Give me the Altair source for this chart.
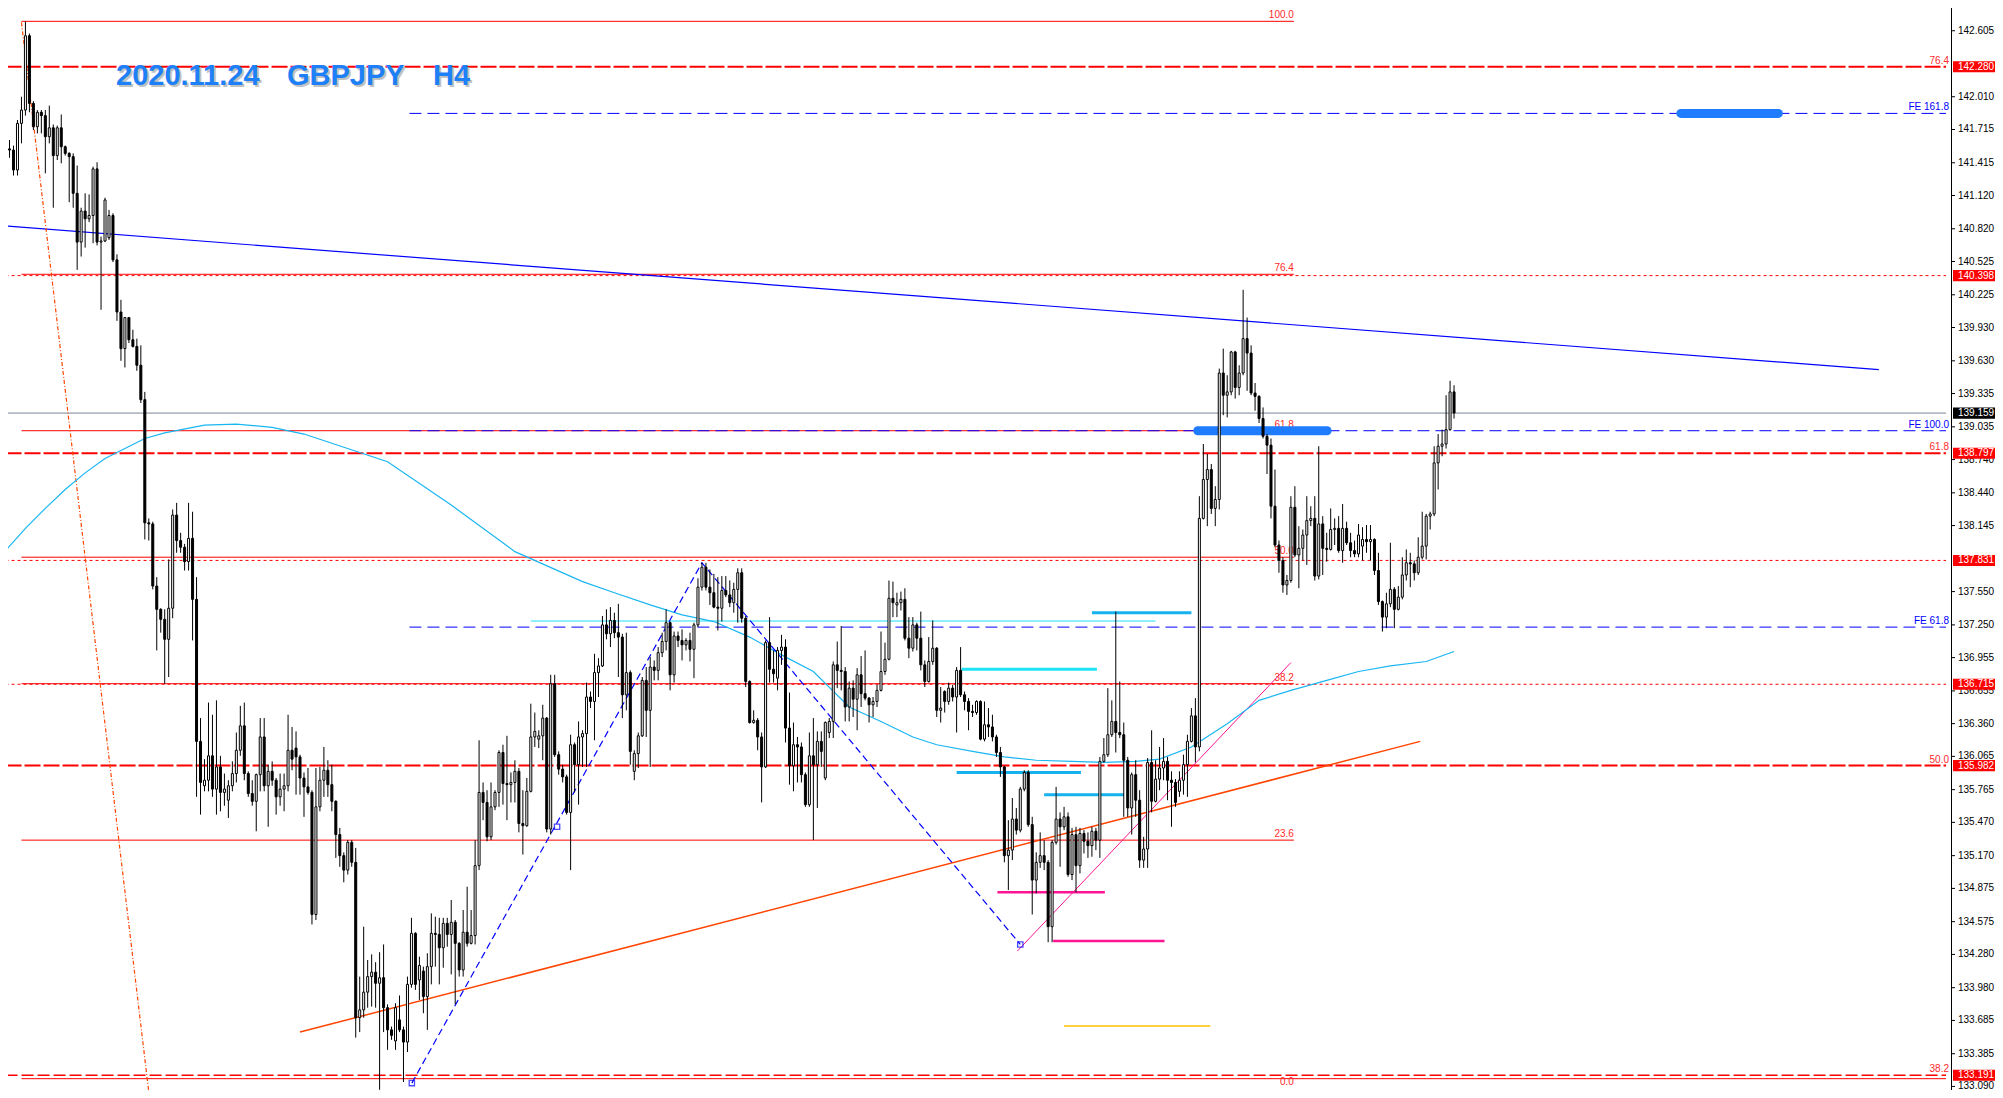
import altair as alt
import pandas as pd

# ---------------- candle data (GBPJPY H4), index 0..364 ----------------
OPEN = [
141.19,141.54,141.53,141.35,141.77,141.89,142.56,141.95,141.74,141.87,
141.84,141.65,141.73,141.48,141.73,141.56,141.50,141.47,141.14,140.70,
140.98,140.91,140.94,141.36,140.70,140.71,140.74,140.94,140.54,140.07,
139.74,140.02,139.82,139.76,139.59,139.28,138.17,138.16,137.60,137.39,
137.30,137.12,137.40,138.24,138.01,137.95,137.82,138.03,137.48,136.20,
135.80,135.85,136.07,135.77,135.97,135.74,135.67,135.80,135.91,136.12,
136.34,135.91,135.73,135.66,135.90,136.24,135.80,135.93,135.85,135.70,
135.77,135.80,136.12,136.14,136.06,135.87,135.79,135.74,134.64,135.61,
135.85,135.94,135.81,135.66,135.36,135.17,135.04,135.29,135.11,133.71,
133.78,133.94,134.08,134.12,134.02,134.07,133.80,133.60,133.50,133.69,
133.60,133.49,134.01,134.47,134.05,134.13,133.90,134.17,134.47,134.46,
134.34,134.56,134.46,134.57,134.38,134.14,134.48,134.38,134.45,135.08,
135.74,135.65,135.34,135.61,135.74,136.10,135.82,135.81,135.83,135.93,
135.46,135.44,135.75,136.24,136.22,136.25,136.41,135.41,136.72,136.08,
135.95,135.88,135.56,136.17,135.99,136.24,136.27,136.60,136.56,136.82,
136.88,137.25,137.17,137.29,137.18,137.14,136.62,136.82,135.93,136.09,
136.25,136.75,136.48,136.87,136.84,137.00,137.10,137.27,136.80,137.15,
137.11,137.07,137.11,137.03,137.25,137.59,137.77,137.59,137.54,137.41,
137.40,137.56,137.52,137.45,137.57,137.72,137.31,136.74,136.37,136.39,
136.24,135.97,137.09,136.85,136.77,137.02,137.05,136.32,135.98,136.17,
136.15,135.90,135.63,136.07,135.99,136.20,135.87,136.28,136.38,136.89,
136.84,136.83,136.51,136.68,136.58,136.80,136.63,136.59,136.53,136.56,
136.66,136.83,136.94,137.49,137.43,137.45,137.48,137.13,137.04,137.25,
137.13,136.89,136.74,136.92,137.04,136.48,136.65,136.56,136.68,136.60,
136.84,136.62,136.56,136.47,136.46,136.56,136.22,136.35,136.33,136.24,
136.10,135.97,135.17,135.22,135.50,135.40,135.77,135.92,135.45,134.95,
135.11,135.17,135.11,134.53,135.29,135.50,135.43,135.52,135.00,135.36,
135.08,135.37,135.30,135.26,135.39,135.31,136.02,136.08,136.26,136.38,
136.28,136.26,136.03,135.60,135.90,135.67,135.13,135.23,136.01,135.66,
135.86,135.96,136.02,135.85,135.83,135.75,135.85,135.99,136.20,136.43,
136.15,138.21,138.56,138.65,138.30,138.38,139.52,139.32,139.35,139.71,
139.39,139.52,139.83,139.70,139.34,139.31,139.11,138.95,138.87,138.32,
137.97,137.83,137.61,137.65,138.31,137.88,137.94,138.06,138.19,138.21,
137.69,138.16,137.94,137.93,138.11,138.12,137.92,138.12,137.99,137.92,
137.89,137.96,138.02,138.00,138.02,137.74,137.46,137.32,137.44,137.57,
137.39,137.50,137.70,137.81,137.80,137.72,137.86,137.96,138.23,138.25,
138.71,138.86,138.88,139.01,139.35]

HIGH = [
141.98,141.62,141.57,141.80,142.01,142.69,142.58,141.97,141.89,141.89,
141.89,141.93,141.76,141.75,141.85,141.57,141.51,141.50,141.39,141.01,
141.14,141.13,141.38,141.42,140.75,141.10,140.99,140.96,140.59,140.18,
140.02,140.02,139.91,139.83,139.77,139.35,138.21,138.18,137.68,137.40,
137.39,137.84,138.29,138.35,138.08,137.98,138.35,138.27,137.68,136.41,
136.04,136.55,136.44,136.57,136.07,135.91,135.85,136.02,136.28,136.52,
136.55,135.93,135.85,135.91,136.41,136.41,135.99,136.02,135.87,135.91,
135.91,136.44,136.33,136.29,136.08,135.92,135.96,135.76,135.96,135.97,
136.15,136.03,135.99,135.67,135.42,135.20,135.31,135.31,135.24,134.08,
134.53,134.23,134.28,134.21,134.30,134.37,133.83,133.63,133.84,133.91,
133.63,134.08,134.61,134.48,134.26,134.17,134.29,134.65,134.62,134.61,
134.61,134.61,134.77,134.59,134.39,134.68,134.89,134.68,135.31,136.21,
135.83,135.76,135.83,135.76,136.12,136.17,136.25,135.92,136.03,135.96,
135.76,135.87,136.54,136.46,136.30,136.53,136.42,136.80,136.80,136.11,
135.99,135.90,136.26,136.19,136.38,136.30,136.73,136.65,136.99,136.95,
137.33,137.39,137.41,137.36,137.44,137.17,137.18,136.84,136.12,136.28,
136.78,136.87,136.96,136.93,137.05,137.18,137.39,137.28,137.19,137.19,
137.21,137.13,137.18,137.27,137.67,137.81,137.81,137.75,137.71,137.68,
137.69,137.69,137.65,137.63,137.76,137.76,137.33,136.75,136.48,136.41,
136.28,137.11,137.32,137.02,137.05,137.16,137.12,136.64,136.37,136.24,
136.19,135.92,136.28,136.41,136.29,136.29,136.38,136.41,136.92,137.10,
137.24,136.87,136.74,136.75,136.86,136.97,137.02,136.60,136.60,136.71,
137.19,137.09,137.65,137.64,137.54,137.55,137.58,137.32,137.32,137.27,
137.37,136.93,137.14,137.29,137.05,136.69,136.66,136.73,136.71,136.87,
137.05,136.65,136.59,136.53,136.57,136.57,136.56,136.50,136.44,136.26,
136.15,135.98,135.49,135.69,135.60,135.79,135.94,135.94,135.52,135.20,
135.38,135.31,135.13,135.31,135.79,135.56,135.61,135.56,135.42,135.43,
135.42,135.40,135.38,135.43,135.42,136.06,136.23,136.68,136.57,137.37,
136.74,136.37,136.06,135.92,136.03,135.76,135.34,136.05,136.30,136.03,
136.15,136.23,136.06,135.93,135.86,135.93,136.08,136.26,136.50,136.59,
138.41,138.88,138.79,138.70,138.50,139.56,139.74,139.50,139.72,139.72,
139.59,140.27,140.02,139.77,139.43,139.32,139.21,138.97,138.93,138.65,
138.01,137.86,137.70,138.41,138.50,138.14,138.11,138.41,138.32,138.41,
138.86,138.23,138.08,138.30,138.21,138.23,138.34,138.18,138.08,138.01,
138.16,138.13,138.15,138.15,138.03,137.90,137.47,137.54,137.99,137.59,
137.60,137.86,137.93,137.90,137.83,138.04,138.27,138.25,138.27,138.86,
138.97,139.01,139.32,139.45,139.41]

LOW = [
141.11,141.46,141.30,141.30,141.59,141.84,141.87,141.71,141.68,141.68,
141.32,141.59,141.01,141.44,141.41,141.48,141.06,141.01,140.45,140.57,
140.65,140.88,140.69,140.67,140.09,140.70,140.72,140.52,139.99,139.63,
139.57,139.79,139.75,139.54,139.25,138.02,138.01,137.57,137.02,137.18,
136.72,136.78,137.31,137.90,137.90,137.74,137.74,137.11,135.70,135.54,
135.75,135.75,135.70,135.54,135.57,135.62,135.51,135.75,135.83,136.07,
135.85,135.70,135.62,135.39,135.75,135.75,135.43,135.80,135.54,135.62,
135.57,135.75,135.94,135.72,135.72,135.52,135.72,134.55,134.59,135.57,
135.70,135.70,135.57,135.15,135.07,134.93,135.00,135.07,133.53,133.58,
133.71,133.80,133.81,133.80,133.06,133.58,133.42,133.51,133.42,133.58,
133.13,133.40,133.98,133.96,133.87,133.75,133.60,134.01,134.17,134.01,
134.16,134.35,134.10,133.83,134.08,134.08,134.35,134.37,134.37,135.04,
135.49,135.30,135.31,135.58,135.61,135.63,135.49,135.65,135.65,135.38,
135.18,135.43,135.74,136.15,136.14,136.03,135.38,135.36,136.06,135.90,
135.83,135.54,135.04,135.74,135.63,135.97,135.97,136.50,136.21,136.60,
136.87,137.12,137.05,137.13,136.78,136.41,136.48,135.99,135.85,135.96,
136.24,136.24,135.97,136.75,136.75,136.96,137.02,136.66,136.73,137.05,
136.93,137.02,136.92,136.77,137.23,137.56,137.56,137.43,137.40,137.20,
137.28,137.50,137.41,137.36,137.27,137.27,136.69,136.36,136.36,136.12,
135.65,135.96,136.73,136.73,136.66,136.89,136.19,135.81,135.75,135.83,
135.83,135.61,135.61,135.31,135.60,135.97,135.85,136.23,136.23,136.68,
136.66,136.38,136.38,136.42,136.30,136.51,136.57,136.37,136.42,136.51,
136.65,136.80,136.93,137.32,137.32,137.38,137.11,136.95,137.01,137.02,
136.84,136.69,136.73,136.89,136.42,136.37,136.46,136.53,136.56,136.28,
136.60,136.48,136.30,136.42,136.44,136.21,136.20,136.24,136.20,136.06,
135.88,135.11,134.86,135.13,135.36,135.38,135.75,135.43,134.64,134.83,
135.06,135.04,134.39,134.39,135.27,135.07,135.40,134.98,134.95,134.84,
135.01,135.19,135.15,135.16,135.22,135.15,136.01,136.06,136.24,136.10,
136.23,135.52,135.52,135.36,135.52,135.06,135.06,135.06,135.56,135.65,
135.76,135.85,135.67,135.43,135.61,135.70,135.72,135.70,136.19,136.01,
136.11,138.20,138.14,138.25,138.14,138.29,139.14,139.12,139.32,139.29,
139.32,139.50,139.36,139.32,139.18,139.07,138.93,138.61,138.21,137.95,
137.72,137.54,137.52,137.63,137.86,137.58,137.83,137.79,138.14,137.65,
137.66,137.70,137.82,137.92,137.97,137.90,137.81,137.97,137.86,137.86,
137.86,137.83,137.90,137.83,137.70,137.43,137.19,137.22,137.41,137.22,
137.38,137.48,137.65,137.59,137.65,137.70,137.84,137.84,138.11,138.23,
138.47,138.77,138.84,139.00,139.11]

CLOSE = [
141.54,141.53,141.35,141.77,141.89,142.56,141.95,141.74,141.87,141.84,
141.65,141.73,141.48,141.73,141.56,141.50,141.47,141.14,140.70,140.98,
140.91,140.94,141.36,140.70,140.71,141.08,140.94,140.54,140.07,139.74,
140.02,139.82,139.76,139.59,139.28,138.17,138.16,137.60,137.39,137.30,
137.12,137.40,138.24,138.01,137.95,137.82,138.03,137.48,136.20,135.83,
135.85,136.07,135.77,135.97,135.74,135.77,135.80,135.91,136.12,136.34,
135.91,135.73,135.66,135.90,136.24,135.80,135.93,135.85,135.70,135.77,
135.80,136.12,136.04,136.06,135.87,135.79,135.74,134.64,135.61,135.85,
135.94,135.81,135.66,135.36,135.17,135.04,135.29,135.11,133.71,133.78,
133.94,134.08,134.12,134.02,134.07,133.80,133.60,133.55,133.80,133.60,
133.49,134.01,134.47,134.01,134.18,133.90,134.17,134.47,134.46,134.34,
134.56,134.46,134.57,134.38,134.14,134.48,134.38,134.45,135.08,135.74,
135.65,135.34,135.61,135.74,136.10,135.82,135.81,135.83,135.93,135.46,
135.44,135.75,136.24,136.29,136.25,136.41,135.41,136.72,136.08,135.95,
135.88,135.56,136.17,135.99,136.24,136.27,136.60,136.56,136.82,136.88,
137.25,137.17,137.29,137.18,137.14,136.62,136.82,136.11,136.09,136.25,
136.75,136.48,136.87,136.84,137.00,137.10,137.27,136.80,137.15,137.11,
137.07,137.11,137.03,137.25,137.59,137.77,137.59,137.54,137.41,137.40,
137.56,137.52,137.45,137.57,137.72,137.31,136.74,136.37,136.39,136.24,
135.97,137.09,136.85,136.81,137.02,137.05,136.32,135.98,136.17,136.15,
135.90,135.63,136.07,135.99,136.20,136.11,136.37,136.38,136.89,136.84,
136.83,136.51,136.68,136.58,136.80,136.63,136.59,136.53,136.56,136.66,
136.83,136.94,137.49,137.45,137.45,137.48,137.13,137.04,137.25,137.13,
136.89,136.74,136.92,137.04,136.48,136.50,136.56,136.68,136.60,136.84,
136.62,136.56,136.47,136.46,136.56,136.22,136.35,136.33,136.24,136.10,
135.97,135.17,135.22,135.50,135.40,135.77,135.92,135.45,134.95,135.11,
135.17,135.11,134.53,135.29,135.50,135.43,135.52,135.00,135.36,135.08,
135.37,135.30,135.26,135.39,135.31,136.02,136.08,136.26,136.38,136.28,
136.26,136.03,135.60,135.90,135.67,135.13,135.23,136.01,135.66,135.86,
135.96,136.02,135.85,135.83,135.65,135.85,135.99,136.20,136.43,136.15,
138.21,138.56,138.65,138.30,138.38,139.52,139.32,139.35,139.71,139.39,
139.52,139.83,139.70,139.34,139.31,139.11,138.95,138.87,138.32,137.97,
137.83,137.61,137.65,138.31,137.88,137.94,138.06,138.19,138.21,137.69,
138.16,137.94,137.93,138.11,138.12,137.92,138.12,137.99,137.92,137.89,
138.06,138.02,138.00,138.02,137.74,137.46,137.32,137.44,137.57,137.39,
137.50,137.70,137.81,137.80,137.72,137.86,137.96,138.23,138.25,138.71,
138.86,138.88,139.01,139.35,139.16]

# ---------------- moving average (read points) ----------------
MA_IDX = [0, 5, 10, 15, 20, 25, 30, 35, 40, 50, 58, 67, 75, 96, 112, 128, 145, 153, 162, 170,
          178, 187, 195, 203, 212, 220, 228, 234, 243, 251, 259, 268, 276, 284, 290, 298, 307,
          315, 323, 332, 340, 348, 357, 364]
MA_VAL = [137.92, 138.12, 138.30, 138.47, 138.62, 138.75, 138.84, 138.93, 138.98, 139.05, 139.06,
          139.03, 138.97, 138.72, 138.33, 137.91, 137.64, 137.54, 137.43, 137.34, 137.28, 137.14,
          136.98, 136.83, 136.51, 136.38, 136.24, 136.17, 136.11, 136.06, 136.03, 136.02, 136.01,
          136.02, 136.04, 136.15, 136.36, 136.57, 136.66, 136.75, 136.83, 136.88, 136.92, 137.01]

# ---------------- price axis ----------------
AXIS_TICKS = [142.605, 142.010, 141.715, 141.415, 141.120, 140.820, 140.525, 140.225,
              139.930, 139.630, 139.335, 139.035, 138.740, 138.440, 138.145, 137.550,
              137.250, 136.955, 136.655, 136.360, 136.065, 135.765, 135.470, 135.170, 134.875,
              134.575, 134.280, 133.980, 133.685, 133.385, 133.090]
RED_TAGS = [142.280, 140.398, 138.797, 137.831, 136.715, 135.982, 133.191]
BID = 139.159

# ---------------- horizontal levels ----------------
HL_DOTTED = [140.398, 137.831, 136.715]
HL_THICK = [142.280, 138.797, 135.982]
HL_DASHED = [133.191]
HL_SOLID = [133.16]

FIBA_LABELS = ["100.0", "76.4", "61.8", "50.0", "38.2", "23.6", "0.0"]
FIBA_PRICES = [142.69, 140.41, 139.00, 137.86, 136.72, 135.31, 133.03]
FIBA_LABEL_AT = [142.69, 140.41, 139.00, 137.86, 136.72, 135.31, 133.08]
FIBA_X = [4, 323.75]

FIBB_LABELS = ["76.4", "61.8", "50.0", "38.2"]
FIBB_PRICES = [142.280, 138.797, 135.982, 133.191]

FE_LABELS = ["FE 161.8", "FE 100.0", "FE 61.8"]
FE_PRICES = [141.86, 139.00, 137.23]
FE_X0 = 101.5
FE_PATH_IDX = [102.1, 175, 255]
FE_PATH_PRICE = [133.12, 137.81, 134.37]
FE_MARK_IDX = [102.1, 138.6, 255]
FE_MARK_PRICE = [133.12, 135.43, 134.37]

# trend lines: (x0, y0, x1, y1) in candle index / price
TL_BLUE = [(0, 140.845, 470.75, 139.55)]
TL_ORANGE = [(74, 133.58, 355.5, 136.20)]
TL_FIB_DIAG = [(4, 142.68, 36, 133.04)]
TL_PINK = [(254.25, 134.31, 323, 136.91)]

SEG_PINK = [(249.25, 134.84, 276.25, 134.84), (263.25, 134.40, 291.25, 134.40)]
SEG_CYAN_THIN = [(132, 137.285, 289, 137.285)]
SEG_SKY = [(273, 137.36, 298, 137.36), (239, 135.92, 270.25, 135.92), (261, 135.72, 281, 135.72)]
SEG_AQUA = [(240.25, 136.85, 274.25, 136.85)]
SEG_GOLD = [(266, 133.635, 302.75, 133.635)]
BAR_BLUE = [(421.0, 141.86, 445.5, 141.86), (299.6, 139.00, 332.1, 139.00)]

TITLE_PARTS = ["2020.11.24", "GBPJPY", "H4"]

# ---------------- layout ----------------
W, H = 1943, 1082
X_DOMAIN = [1.875, 487.625]
Y_DOMAIN = [133.058, 142.810]
XMAX = X_DOMAIN[1]
xs = alt.Scale(domain=X_DOMAIN, nice=False, zero=False)
ys = alt.Scale(domain=Y_DOMAIN, nice=False, zero=False)
FONT = "Liberation Sans"

n = len(OPEN)
assert n == len(HIGH) == len(LOW) == len(CLOSE), (len(OPEN), len(HIGH), len(LOW), len(CLOSE))
candles = pd.DataFrame({"i": list(range(n)), "o": OPEN, "h": HIGH, "l": LOW, "c": CLOSE})


def segs(rows, color, width=1.0, dash=None, cap="butt", opacity=1.0):
    df = pd.DataFrame(rows, columns=["x0", "y0", "x1", "y1"])
    mk = dict(color=color, strokeWidth=width, strokeCap=cap, opacity=opacity)
    if dash:
        mk["strokeDash"] = dash
    return alt.Chart(df).mark_rule(**mk).encode(
        x=alt.X("x0:Q", scale=xs, axis=None), x2="x1:Q",
        y=alt.Y("y0:Q", scale=ys, axis=None), y2="y1:Q")


def hl(prices, x0, x1):
    return [(x0, p, x1, p) for p in prices]


layers = []
# full-width horizontal lines
layers.append(segs(hl(HL_DOTTED, 0, XMAX), "#ff0000", 1, [3, 3]))
layers.append(segs(hl([BID], 0, XMAX), "#7b8793", 1))
layers.append(segs(hl(HL_THICK, 0, XMAX), "#ff0000", 2, [16, 3]))
layers.append(segs(hl(HL_DASHED, 0, XMAX), "#ff0000", 1.5, [12, 4]))
layers.append(segs(hl(HL_SOLID, 4, XMAX), "#ff0000", 1))
# fibo A
layers.append(segs(hl(FIBA_PRICES, FIBA_X[0], FIBA_X[1]), "#ff0000", 1))
# FE lines
layers.append(segs(hl(FE_PRICES, FE_X0, XMAX), "#0000ff", 1, [12, 6]))
# trend lines
layers.append(segs(TL_BLUE, "#0000ff", 1.2))
layers.append(segs(TL_ORANGE, "#ff4500", 1.5))
layers.append(segs(TL_FIB_DIAG, "#ff4500", 1.2, [4, 2, 1, 2]))
layers.append(segs(TL_PINK, "#ff1493", 1))
layers.append(segs(SEG_CYAN_THIN, "#1fe0f5", 1.2))
layers.append(segs(SEG_SKY, "#16b2f0", 3))
layers.append(segs(SEG_AQUA, "#1fe3f7", 3))
layers.append(segs(SEG_PINK, "#ff1493", 2.5))
layers.append(segs(SEG_GOLD, "#ffc000", 1.5))

# moving average
ma_df = pd.DataFrame({"i": MA_IDX, "v": MA_VAL})
layers.append(alt.Chart(ma_df).mark_line(color="#1ab6f2", strokeWidth=1.2).encode(
    x=alt.X("i:Q", scale=xs, axis=None), y=alt.Y("v:Q", scale=ys, axis=None)))

# FE zigzag and markers
fe_df = pd.DataFrame({"i": FE_PATH_IDX, "p": FE_PATH_PRICE, "k": [0, 1, 2]})
layers.append(alt.Chart(fe_df).mark_line(color="#0000ff", strokeWidth=1.2, strokeDash=[7, 4]).encode(
    x=alt.X("i:Q", scale=xs, axis=None), y=alt.Y("p:Q", scale=ys, axis=None), order="k:Q"))
fm_df = pd.DataFrame({"i": FE_MARK_IDX, "p": FE_MARK_PRICE})
layers.append(alt.Chart(fm_df).mark_point(shape="square", filled=False, color="#0000ff",
                                          size=28, strokeWidth=1.3).encode(
    x=alt.X("i:Q", scale=xs, axis=None), y=alt.Y("p:Q", scale=ys, axis=None)))

# fibo A labels (under the blue bar)
fa_df = pd.DataFrame({"t": FIBA_LABELS, "p": FIBA_LABEL_AT, "x": [FIBA_X[1]] * len(FIBA_LABELS)})
layers.append(alt.Chart(fa_df).mark_text(align="right", baseline="bottom", dy=-1, font=FONT,
                                         fontSize=10, color="#ff2a2a").encode(
    x=alt.X("x:Q", scale=xs, axis=None), y=alt.Y("p:Q", scale=ys, axis=None), text="t:N"))

# thick blue markers
layers.append(segs(BAR_BLUE, "#1f7cff", 9, cap="round"))

# candles
base = alt.Chart(candles)
layers.append(base.mark_rule(color="#000000", strokeWidth=1).encode(
    x=alt.X("i:Q", scale=xs, axis=None), y=alt.Y("l:Q", scale=ys, axis=None), y2="h:Q"))
layers.append(base.mark_bar(size=2, stroke="#000000", strokeWidth=1).encode(
    x=alt.X("i:Q", scale=xs, axis=None), y=alt.Y("o:Q", scale=ys, axis=None), y2="c:Q",
    fill=alt.condition("datum.c >= datum.o", alt.value("#ffffff"), alt.value("#000000"))))

# level labels at the right edge
rl_df = pd.DataFrame({"t": FIBB_LABELS + FE_LABELS, "p": FIBB_PRICES + FE_PRICES,
                      "col": ["#ff2a2a"] * len(FIBB_LABELS) + ["#0000ff"] * len(FE_LABELS)})
layers.append(alt.Chart(rl_df).mark_text(align="right", baseline="bottom", dy=-1, font=FONT,
                                         fontSize=10).encode(
    x=alt.value(W - 2), y=alt.Y("p:Q", scale=ys, axis=None), text="t:N",
    color=alt.Color("col:N", scale=None)))

# price axis drawn from the tick list
axis_line = pd.DataFrame({"a": [0]})
layers.append(alt.Chart(axis_line).mark_rule(color="#000000", strokeWidth=1).encode(
    x=alt.value(W + 0.5), y=alt.value(0), y2=alt.value(H)))
ticks_df = pd.DataFrame({"p": AXIS_TICKS})
ticks_df["t"] = ticks_df["p"].map(lambda v: f"{v:.3f}")
layers.append(alt.Chart(ticks_df).mark_rule(color="#000000", strokeWidth=1).encode(
    x=alt.value(W), x2=alt.value(W + 4), y=alt.Y("p:Q", scale=ys, axis=None)))
layers.append(alt.Chart(ticks_df).mark_text(align="left", baseline="middle", font=FONT,
                                            fontSize=10, color="#000000").encode(
    x=alt.value(W + 7), y=alt.Y("p:Q", scale=ys, axis=None), text="t:N"))

# axis price tags
tags = pd.DataFrame({"p": RED_TAGS + [BID], "col": ["#ff0000"] * len(RED_TAGS) + ["#000000"]})
tags["t"] = tags["p"].map(lambda v: f"{v:.3f}")
tag_base = alt.Chart(tags).transform_calculate(hi="datum.p + 0.05", lo="datum.p - 0.05")
layers.append(tag_base.mark_rect().encode(
    x=alt.value(W + 2), x2=alt.value(W + 44),
    y=alt.Y("hi:Q", scale=ys, axis=None), y2="lo:Q",
    fill=alt.Color("col:N", scale=None)))
layers.append(alt.Chart(tags).mark_text(align="left", baseline="middle", font=FONT, fontSize=10,
                                        color="#ffffff").encode(
    x=alt.value(W + 7), y=alt.Y("p:Q", scale=ys, axis=None), text="t:N"))

# title
title_df = pd.DataFrame({"t": TITLE_PARTS, "px": [108, 279, 425]})
layers.append(alt.Chart(title_df).mark_text(align="left", baseline="alphabetic", font=FONT,
                                            fontSize=29, fontWeight="bold", color="#b8b8b8",
                                            dx=2, dy=2, opacity=0.85).encode(
    x=alt.X("px:Q", scale=None, axis=None), y=alt.value(77), text="t:N"))
layers.append(alt.Chart(title_df).mark_text(align="left", baseline="alphabetic", font=FONT,
                                            fontSize=29, fontWeight="bold", color="#1e80f8").encode(
    x=alt.X("px:Q", scale=None, axis=None), y=alt.value(77), text="t:N"))

chart = alt.layer(*layers).properties(
    width=W, height=H,
    padding={"left": 0, "top": 0, "right": 44, "bottom": 0},
    autosize=alt.AutoSizeParams(type="none"),
    background="#ffffff",
).configure_view(stroke=None)

chart.save("out.html", embed_options={"renderer": "svg", "actions": False})
